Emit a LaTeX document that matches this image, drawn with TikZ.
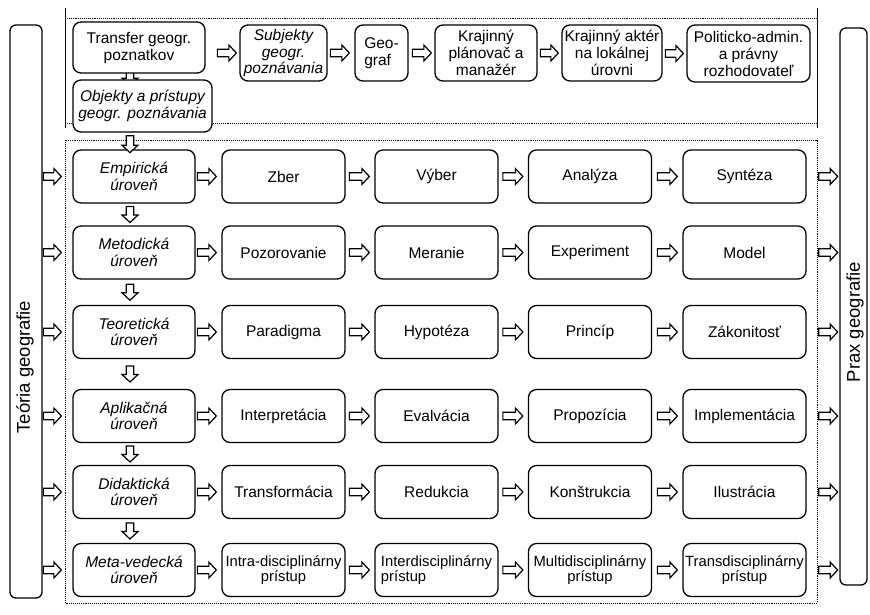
\documentclass[tikz,border=0pt]{standalone}
\usepackage{fontspec}
\setmainfont{Liberation Sans}
\usetikzlibrary{calc}
\pgfdeclarelayer{bg}
\pgfsetlayers{bg,main}
\tikzset{
  box/.style={draw, line width=1.3pt, rounded corners=8pt, fill=white, align=center, inner sep=1pt, font=\fontsize{15.5}{17}\selectfont},
  topbox/.style={box, minimum height=56pt},
  lvl/.style={box, minimum width=122pt, minimum height=53pt, font=\fontsize{15.5}{16.5}\selectfont\itshape},
  cell/.style={box, minimum width=123pt, minimum height=53pt},
  smallcell/.style={cell, font=\fontsize{14.8}{15.5}\selectfont},
  % block arrow with its tip at the pic's origin, pointing along +x
  blockarrow/.pic={
    \draw[line width=1.2pt, fill=white, line join=miter]
      (-#1,-3.8) -- (-7.5,-3.8) -- (-7.5,-8) -- (0,0) -- (-7.5,8)
      -- (-7.5,3.8) -- (-#1,3.8) -- cycle;
  },
  frame/.style={densely dotted, line width=0.9pt},
  sidebox/.style={draw, line width=1.3pt, rounded corners=6pt},
  sidelabel/.style={rotate=90, font=\fontsize{18.5}{20}\selectfont},
}
\begin{document}
\begin{tikzpicture}[x=1pt,y=-1pt]
\useasboundingbox (0,0) rectangle (870,614);

% side boxes
\node[sidebox, minimum width=32pt, minimum height=573pt] (teo) at (26,311.5) {};
\node[sidelabel] (teolab) at (25,367) {Teória geografie};
\node[sidebox, minimum width=27pt, minimum height=557pt] (prax) at (853.5,306.5) {};
\node[sidelabel] (praxlab) at (855,322) {Prax geografie};

% top row
\node[box, minimum width=132pt, minimum height=51pt] (tr) at (139,47.5) {Transfer geogr.\\poznatkov};
\node[box, minimum width=139pt, minimum height=52pt, font=\fontsize{15.5}{17}\selectfont\itshape] (ob) at (142.5,106) {Objekty a prístupy\\geogr. poznávania};
\node[topbox, minimum width=87pt, font=\fontsize{15.5}{16.5}\selectfont\itshape] (su) at (283.5,53) {Subjekty\\geogr.\\poznávania};
\node[topbox, minimum width=53pt, align=left] (ge) at (381.5,53) {Geo-\\graf};
\node[topbox, minimum width=102pt] (kp) at (486,53) {Krajinný\\plánovač a\\manažér};
\node[topbox, minimum width=100pt] (ka) at (612,53) {Krajinný aktér\\na lokálnej\\úrovni};
\node[topbox, minimum width=123pt, minimum height=57pt] (po) at (748.5,53.5) {Politicko-admin.\\a právny\\rozhodovateľ};

% level column
\node[lvl] (l1) at (134,176.5) {Empirická\\úroveň};
\node[lvl] (l2) at (134,252.5) {Metodická\\úroveň};
\node[lvl] (l3) at (134,332) {Teoretická\\úroveň};
\node[lvl] (l4) at (134,416) {Aplikačná\\úroveň};
\node[lvl] (l5) at (134,492) {Didaktická\\úroveň};
\node[lvl] (l6) at (134,570) {Meta-vedecká\\úroveň};

% grid
\node[cell] (c11) at (283.5,176.5) {Zber};
\node[cell] (c12) at (436.5,176.5) {Výber};
\node[cell] (c13) at (590,176.5) {Analýza};
\node[cell] (c14) at (744.5,176.5) {Syntéza};
\node[cell] (c21) at (283.5,252.5) {Pozorovanie};
\node[cell] (c22) at (436.5,252.5) {Meranie};
\node[cell] (c23) at (590,252.5) {Experiment};
\node[cell] (c24) at (744.5,252.5) {Model};
\node[cell] (c31) at (283.5,332) {Paradigma};
\node[cell] (c32) at (436.5,332) {Hypotéza};
\node[cell] (c33) at (590,332) {Princíp};
\node[cell] (c34) at (744.5,332) {Zákonitosť};
\node[cell] (c41) at (283.5,416) {Interpretácia};
\node[cell] (c42) at (436.5,416) {Evalvácia};
\node[cell] (c43) at (590,416) {Propozícia};
\node[cell] (c44) at (744.5,416) {Implementácia};
\node[cell] (c51) at (283.5,492) {Transformácia};
\node[cell] (c52) at (436.5,492) {Redukcia};
\node[cell] (c53) at (590,492) {Konštrukcia};
\node[cell] (c54) at (744.5,492) {Ilustrácia};
\node[smallcell] (c61) at (283.5,570) {Intra-disciplinárny\\prístup};
\node[smallcell, align=left] (c62) at (436.5,570) {Interdisciplinárny\\prístup};
\node[smallcell] (c63) at (590,570) {Multidisciplinárny\\prístup};
\node[smallcell] (c64) at (744.5,570) {Transdisciplinárny\\prístup};

% frames and hidden arrow (behind boxes)
\begin{pgfonlayer}{bg}
  \draw[line width=1pt] (65,8) -- (65,128);
  \draw[line width=1pt] (817,8) -- (817,128);
  \draw[frame] (65,18) -- (817,18);
  \draw[frame] (65,123) -- (817,123);
  \draw[frame] (65,140) rectangle (817,603);
  \pic[rotate=-90] at ($(tr.south)+(-9,12)$) {blockarrow=17};
\end{pgfonlayer}
\pic[rotate=-90] at ($(ob.south)+(-12.5,20)$) {blockarrow=17};

% top row arrows
\pic at ($(su.west)+(-3,0)$) {blockarrow=19};
\pic at ($(ge.west)+(-5,0)$) {blockarrow=19};
\pic at ($(kp.west)+(-3,0)$) {blockarrow=19};
\pic at ($(ka.west)+(-3,0)$) {blockarrow=18};
\pic at ($(po.west)+(-3,0)$) {blockarrow=18};

% vertical arrows between levels
\foreach \a/\b in {l1/l2,l2/l3,l3/l4,l4/l5,l5/l6}{
  \pic[rotate=-90] at ($(\a.south)!0.5!(\b.north)+(-4,8)$) {blockarrow=16};
}

% row arrows
\foreach \r in {1,...,6}{
  \pic at ($(l\r.west)+(-11,0)$) {blockarrow=18};
  \pic at ($(c\r1.west)+(-5,0)$) {blockarrow=19};
  \pic at ($(c\r2.west)+(-5,0)$) {blockarrow=20};
  \pic at ($(c\r3.west)+(-5,0)$) {blockarrow=20};
  \pic at ($(c\r4.west)+(-5,0)$) {blockarrow=20};
  \pic at ($(c\r4.east)+(31,0)$) {blockarrow=19};
}
\end{tikzpicture}
\end{document}
